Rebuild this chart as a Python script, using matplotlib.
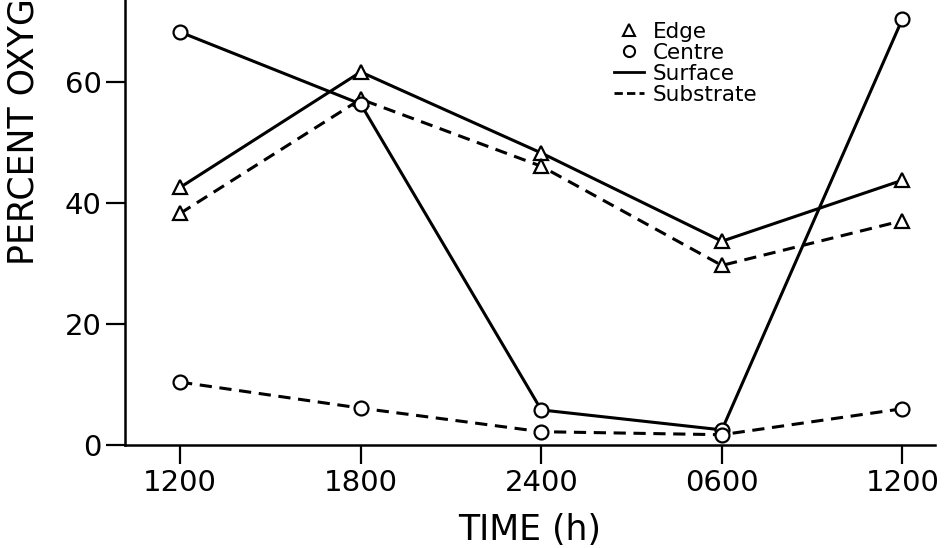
import matplotlib.pyplot as plt
from matplotlib.lines import Line2D

times = ['1200', '1800', '2400', '0600', '1200']
edge_surface = [42.6, 61.7, 48.3, 33.7, 43.8]
edge_substrate = [38.3, 57.2, 46.1, 29.7, 37.1]
centre_surface = [68.3, 56.4, 5.8, 2.5, 70.5]
centre_substrate = [10.4, 6.1, 2.2, 1.7, 6.0]
yticks = [0, 20, 40, 60]

plt.rcParams['font.family'] = ['DejaVu Sans']
fig = plt.figure(figsize=(9.45, 5.48), dpi=100)
W, H = 945, 548
# axes: left spine x=125, bottom y=445, top = figure top (cropped), right ~935
ax = fig.add_axes([125 / W, (H - 445) / H, (935 - 125) / W, 445 / H])

x = list(range(len(times)))
mk = dict(markersize=10, markerfacecolor='white', markeredgecolor='black',
          markeredgewidth=1.6, color='black', linewidth=2.2)
ax.plot(x, edge_surface, marker='^', linestyle='-', **mk)
ax.plot(x, edge_substrate, marker='^', linestyle=(0, (4, 2.5)), **mk)
ax.plot(x, centre_surface, marker='o', linestyle='-', **mk)
ax.plot(x, centre_substrate, marker='o', linestyle=(0, (4, 2.5)), **mk)

ax.set_xlim(-0.305, 4.18)
ax.set_ylim(0, 73.6)
ax.set_xticks(x)
ax.set_xticklabels(times, fontsize=21)
ax.set_yticks(yticks)
ax.set_yticklabels([str(v) for v in yticks], fontsize=21)
ax.tick_params(axis='both', direction='out', length=14, width=1.6, pad=3)
ax.spines['top'].set_visible(False)
ax.spines['right'].set_visible(False)
ax.spines['left'].set_linewidth(1.8)
ax.spines['bottom'].set_linewidth(1.8)
ax.set_xlabel('TIME (h)', fontsize=25, labelpad=12)

fig.text(24 / W, (H - 265) / H, 'PERCENT OXYGEN SATURATION', rotation=90,
         fontsize=25, va='bottom', ha='center')

handles = [
    Line2D([], [], marker='^', linestyle='none', markersize=8,
           markerfacecolor='white', markeredgecolor='black', markeredgewidth=1.5),
    Line2D([], [], marker='o', linestyle='none', markersize=8,
           markerfacecolor='white', markeredgecolor='black', markeredgewidth=1.5),
    Line2D([], [], color='black', linestyle='-', linewidth=2),
    Line2D([], [], color='black', linestyle=(0, (3, 1.5)), linewidth=2),
]
ax.legend(handles, ['Edge', 'Centre', 'Surface', 'Substrate'], frameon=False,
          fontsize=15.5, loc='upper left', bbox_to_anchor=(0.58, 0.995),
          handlelength=1.4, handletextpad=0.4, labelspacing=0.05)

fig.savefig('out.png', dpi=100)
